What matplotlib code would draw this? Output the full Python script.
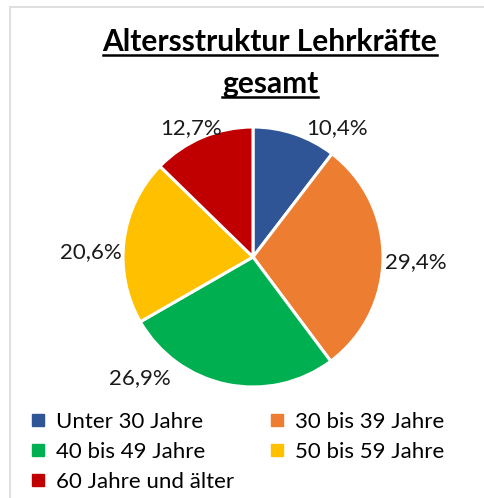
import matplotlib.pyplot as plt
from matplotlib.lines import Line2D
from matplotlib.patches import Rectangle

# Altersgruppen und Anteile (%)
groups = ["Unter 30 Jahre", "30 bis 39 Jahre", "40 bis 49 Jahre",
          "50 bis 59 Jahre", "60 Jahre und älter"]
shares = [10.4, 29.4, 26.9, 20.6, 12.7]
colors = ["#2F5597", "#ED7D31", "#00B050", "#FFC000", "#C00000"]

title_lines = ["Altersstruktur Lehrkräfte", "gesamt"]

# best-fit label anchors, in pie radius units
label_pos = [(0.65, 0.99), (1.25, -0.04), (-0.87, -0.93),
             (-1.25, 0.04), (-0.48, 0.99)]

plt.rcParams['font.family'] = ['Lato', 'DejaVu Sans']

fig = plt.figure(figsize=(4.85, 4.98), dpi=100)
W, H = 485, 498

# light frame of the chart area
fig.patches.append(Rectangle((10 / W, -0.01), 1.1, 1 - 7 / H + 0.01,
                             transform=fig.transFigure, fill=False,
                             edgecolor="#d9d9d9", linewidth=1.2))

cx, cy, r = 253, 257, 130
ax = fig.add_axes([(cx - r) / W, 1 - (cy + r) / H, 2 * r / W, 2 * r / H])
wedges, texts = ax.pie(
    shares, colors=colors, startangle=90, counterclock=False,
    labels=[f"{v:.1f}%".replace(".", ",") for v in shares],
    wedgeprops=dict(edgecolor="white", linewidth=2.2),
    textprops=dict(fontsize=16, color="#1a1a1a"),
)
for t, pos in zip(texts, label_pos):
    t.set_position(pos)
    t.set_horizontalalignment("center")
    t.set_verticalalignment("center")
ax.set_xlim(-1, 1)
ax.set_ylim(-1, 1)
ax.axis("off")

# title, two lines, bold and underlined
title_texts = []
for line, y in zip(title_lines, [42, 84]):
    t = fig.text(270 / W, 1 - y / H, line, ha="center", va="center",
                 fontsize=21.5, fontweight="bold", color="black")
    title_texts.append(t)

fig.canvas.draw()
renderer = fig.canvas.get_renderer()
for t in title_texts:
    bb = t.get_window_extent(renderer)
    yline = bb.y0 + 1
    fig.add_artist(Line2D([bb.x0 / W, bb.x1 / W], [yline / H, yline / H],
                          transform=fig.transFigure, color="black",
                          linewidth=1.8))

# legend, filled row by row
order = [0, 2, 4, 1, 3]
handles = [Line2D([], [], marker="s", linestyle="none", markersize=8,
                  markerfacecolor=colors[i], markeredgecolor=colors[i],
                  label=groups[i]) for i in order]
fig.legend(handles=handles, loc="upper left", bbox_to_anchor=(30 / W, 1 - 412 / H),
           ncol=2, frameon=False, fontsize=16, handlelength=0.7,
           handletextpad=0.45, columnspacing=1.6, labelspacing=0.45,
           borderaxespad=0, borderpad=0)

fig.savefig("out.png", dpi=100)
